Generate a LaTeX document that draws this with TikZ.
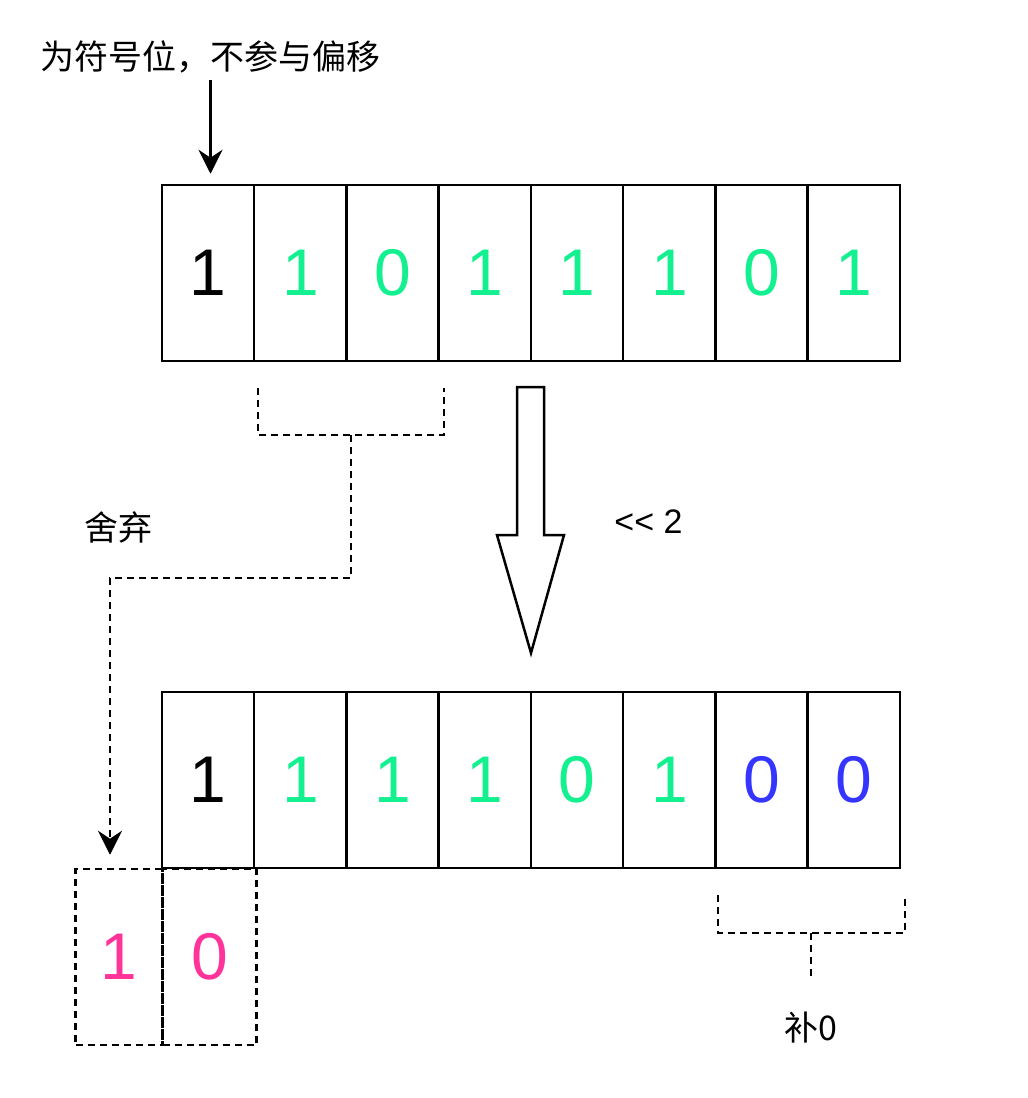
\documentclass[tikz,border=0pt]{standalone}
\usepackage{fontspec}
\setmainfont{Liberation Sans}
\newfontfamily\cjk{Noto Sans CJK SC}
\usetikzlibrary{arrows.meta}
\definecolor{bitgreen}{HTML}{12F08F}
\definecolor{bitblue}{HTML}{3535FF}
\definecolor{bitpink}{HTML}{FF3399}
\begin{document}
\begin{tikzpicture}[x=1pt, y=-1pt, line width=2.5pt,
    main/.style = {draw, rectangle, minimum width=92.25pt, minimum height=176pt, inner sep=0pt, font=\fontsize{66}{66}\selectfont},
    dsh/.style = {dash pattern=on 7pt off 5pt},
    arr/.style = {-{Stealth[length=24pt, width=24pt, inset=8pt]}},
    lbl/.style = {inner sep=0pt, font=\cjk\fontsize{34}{34}\selectfont}]
    \useasboundingbox (0,0) rectangle (1028,1098);

    \node[main] (1) at (208.1,273) {1};
    \node[main, text=bitgreen] (2) [right of=1, node distance=92.25pt] {1};
    \node[main, text=bitgreen] (3) [right of=2, node distance=92.25pt] {0};
    \node[main, text=bitgreen] (4) [right of=3, node distance=92.25pt] {1};
    \node[main, text=bitgreen] (5) [right of=4, node distance=92.25pt] {1};
    \node[main, text=bitgreen] (6) [right of=5, node distance=92.25pt] {1};
    \node[main, text=bitgreen] (7) [right of=6, node distance=92.25pt] {0};
    \node[main, text=bitgreen] (8) [right of=7, node distance=92.25pt] {1};

    \node[main] (9) [below of=1, node distance=507pt] {1};
    \node[main, text=bitgreen] (10) [right of=9, node distance=92.25pt] {1};
    \node[main, text=bitgreen] (11) [right of=10, node distance=92.25pt] {1};
    \node[main, text=bitgreen] (12) [right of=11, node distance=92.25pt] {1};
    \node[main, text=bitgreen] (13) [right of=12, node distance=92.25pt] {0};
    \node[main, text=bitgreen] (14) [right of=13, node distance=92.25pt] {1};
    \node[main, text=bitblue] (15) [right of=14, node distance=92.25pt] {0};
    \node[main, text=bitblue] (16) [right of=15, node distance=92.25pt] {0};

    \node[main, dsh, text=bitpink, minimum width=94pt] (18) [below of=9, node distance=177pt, xshift=1.5pt] {0};
    \node[main, dsh, text=bitpink, minimum width=87pt] (17) [left of=18, node distance=90.5pt] {1};

    \node[lbl] (t1) at (210.5,57) {为符号位，不参与偏移};
    \node[lbl] (t2) at (118.5,527) {舍弃};
    \node[lbl, font=\fontsize{34}{34}\selectfont] (t3) at (648.5,522) {<{}< 2};
    \node[lbl] (t4) at (811,1028) {补0};

    \draw[arr, shorten <=6pt, shorten >=10pt] (t1.south) -- (t1.south |- 1.north);

    \draw[line join=miter] (517,387) -- (544,387) -- (544,535) -- (564,535) -- (531,653) -- (497,535) -- (517,535) -- cycle;

    \coordinate (c1) at (258,388);
    \coordinate (c2) at (444,388);
    \coordinate (c3) at (351,435);
    \coordinate (c4) at (110,578);
    \draw[dsh] (c1) -- ++(0,47) -| (c2);
    \draw[dsh, arr, shorten >=13pt] (c3) |- (c4) -- (c4 |- 17.north);

    \coordinate (c5) at (718,895);
    \coordinate (c6) at (905,895);
    \coordinate (c7) at (811,933);
    \draw[dsh] (c5) -- ++(0,38) -| (c6);
    \draw[dsh] (c7) -- (c7 |- t4.north) [shorten >=35pt];

\end{tikzpicture}
\end{document}
